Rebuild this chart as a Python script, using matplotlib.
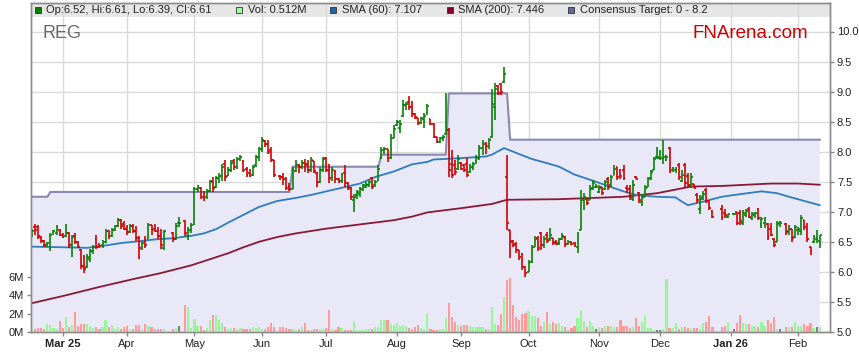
import numpy as np
import pandas as pd
import matplotlib
matplotlib.use('Agg')
import matplotlib.pyplot as plt
from matplotlib.collections import LineCollection
from matplotlib.patches import Rectangle

plt.rcParams['font.family'] = ['Liberation Sans', 'DejaVu Sans']

# ---------------- data ----------------
weekdays = pd.bdate_range('2025-02-17', '2026-02-11')
holidays = pd.to_datetime(['2025-04-18', '2025-04-21', '2025-04-25', '2025-06-09',
                           '2025-12-25', '2025-12-26', '2026-01-01', '2026-01-26'])

opens = [6.60,6.74,6.75,6.58,6.52,6.45,6.40,6.64,6.65,6.70,6.62,6.60,6.64,6.45,6.60,6.50,6.36,6.10,6.08,6.22,
         6.35,6.55,6.45,6.44,6.50,6.68,6.60,6.70,6.76,6.86,6.80,6.72,6.66,6.76,6.68,6.56,6.40,6.52,6.55,6.78,
         6.72,6.68,6.60,6.40,6.65,6.55,6.82,6.84,6.60,6.70,6.80,7.38,7.40,7.25,7.24,7.35,7.52,7.42,7.56,7.60,
         7.80,7.60,7.70,7.84,7.75,7.88,7.85,7.72,7.64,7.62,7.78,7.92,8.05,8.18,8.12,8.02,7.86,7.60,7.58,7.55,
         7.42,7.38,7.68,7.78,7.75,7.82,7.80,7.70,7.84,7.64,7.50,7.70,7.90,7.70,7.58,7.68,7.55,7.52,7.64,7.48,
         7.40,7.20,7.28,7.30,7.38,7.42,7.44,7.56,7.45,7.52,7.90,8.02,8.04,7.90,8.22,8.44,8.40,8.60,8.78,8.82,
         8.75,8.62,8.56,8.48,8.54,8.64,8.54,8.46,8.24,8.16,8.22,8.30,8.36,7.80,7.78,7.72,7.82,7.78,7.80,7.66,
         7.74,7.84,7.90,8.06,8.12,8.10,8.24,8.75,9.10,9.12,9.16,7.58,6.70,6.52,6.46,6.36,6.30,6.08,6.00,6.16,
         6.42,6.56,6.64,6.45,6.62,6.55,6.56,6.50,6.48,6.55,6.58,6.46,6.49,6.48,6.42,6.70,7.20,7.22,7.20,7.40,
         7.41,7.33,7.42,7.38,7.55,7.44,7.62,7.74,7.70,7.70,7.40,7.38,7.22,7.58,7.31,7.16,7.25,7.42,7.56,7.70,
         7.92,7.90,7.88,7.86,8.06,7.70,7.70,7.78,7.52,7.78,7.60,7.45,7.46,7.28,7.05,7.24,7.36,7.18,7.02,7.05,
         6.98,6.92,6.96,7.00,6.98,6.82,6.94,7.05,6.90,6.95,7.04,6.80,6.82,6.80,6.72,6.55,6.50,6.82,6.80,6.68,
         6.72,6.58,6.70,6.68,6.86,6.72,6.42,6.50,6.55,6.52]
highs = [6.72,6.80,6.78,6.60,6.53,6.50,6.64,6.70,6.78,6.72,6.64,6.80,6.66,6.62,6.64,6.52,6.38,6.28,6.30,6.38,
         6.44,6.62,6.48,6.53,6.72,6.70,6.73,6.78,6.90,6.88,6.84,6.78,6.80,6.80,6.76,6.60,6.52,6.60,6.81,6.78,
         6.80,6.74,6.72,6.70,6.67,6.81,6.92,6.86,6.75,6.81,7.42,7.45,7.42,7.35,7.38,7.53,7.58,7.60,7.64,7.80,
         7.86,7.75,7.86,7.88,7.92,7.95,7.86,7.75,7.72,7.78,7.95,8.08,8.25,8.19,8.19,8.08,7.86,7.62,7.65,7.58,
         7.48,7.75,7.86,7.80,7.86,7.88,7.86,7.92,7.85,7.66,7.75,7.92,7.92,7.80,7.75,7.70,7.56,7.65,7.78,7.50,
         7.42,7.30,7.36,7.42,7.47,7.50,7.53,7.58,7.53,7.78,8.08,8.08,8.05,8.30,8.44,8.53,8.53,8.86,8.83,8.92,
         8.84,8.64,8.56,8.58,8.64,8.80,8.55,8.48,8.25,8.25,8.28,8.97,8.39,8.03,7.86,7.94,7.83,7.80,7.89,7.80,
         7.83,7.94,8.11,8.19,8.16,8.22,9.05,9.14,9.11,9.14,9.41,7.94,6.70,6.53,6.50,6.36,6.31,6.09,6.20,6.45,
         6.59,6.59,6.67,6.59,6.67,6.73,6.56,6.53,6.56,6.64,6.59,6.53,6.51,6.50,6.67,7.36,7.31,7.22,7.45,7.53,
         7.47,7.44,7.42,7.53,7.58,7.61,7.78,7.75,7.72,7.78,7.44,7.45,7.53,7.59,7.33,7.29,7.44,7.58,7.70,7.92,
         8.08,8.03,8.20,7.95,8.08,7.75,7.75,7.81,7.70,7.81,7.64,7.64,7.47,7.31,7.28,7.34,7.39,7.20,7.03,7.12,
         7.05,6.97,6.98,7.00,7.03,7.03,7.05,7.08,7.00,7.00,7.06,6.92,6.92,6.81,6.81,6.56,6.84,6.84,6.81,6.78,
         6.72,6.78,6.75,6.95,6.86,6.81,6.42,6.61,6.70,6.61]
lows = [6.58,6.62,6.55,6.48,6.42,6.42,6.34,6.62,6.61,6.59,6.56,6.58,6.40,6.25,6.46,6.40,6.05,5.98,6.06,6.16,
        6.30,6.38,6.40,6.40,6.48,6.55,6.58,6.68,6.74,6.72,6.70,6.62,6.65,6.64,6.52,6.22,6.36,6.40,6.55,6.61,
        6.66,6.55,6.38,6.36,6.50,6.53,6.75,6.59,6.53,6.64,6.78,7.33,7.22,7.18,7.22,7.33,7.33,7.40,7.48,7.52,
        7.52,7.60,7.66,7.70,7.72,7.84,7.66,7.58,7.58,7.60,7.75,7.84,8.00,8.08,7.97,7.83,7.58,7.53,7.45,7.36,
        7.34,7.38,7.67,7.64,7.72,7.66,7.64,7.66,7.64,7.42,7.48,7.66,7.66,7.48,7.52,7.48,7.48,7.48,7.42,7.36,
        7.20,7.00,7.22,7.25,7.34,7.40,7.42,7.38,7.42,7.52,7.88,7.97,7.83,7.88,8.22,8.42,8.31,8.58,8.69,8.70,
        8.58,8.55,8.44,8.46,8.40,8.61,8.44,8.22,8.14,8.14,8.17,8.28,7.58,7.56,7.61,7.70,7.69,7.66,7.58,7.64,
        7.69,7.80,7.86,7.94,7.97,8.05,8.22,8.53,8.94,8.94,9.14,6.70,6.23,6.42,6.31,6.20,6.03,5.92,6.00,6.14,
        6.42,6.34,6.36,6.40,6.48,6.51,6.45,6.45,6.45,6.53,6.42,6.45,6.45,6.42,6.31,6.70,7.03,7.12,7.20,7.36,
        7.39,7.31,7.28,7.36,7.36,7.42,7.62,7.53,7.55,7.53,7.31,7.20,7.18,7.54,7.14,7.09,7.25,7.42,7.53,7.70,
        7.88,7.86,7.80,7.84,7.64,7.66,7.64,7.53,7.50,7.42,7.39,7.40,7.39,7.14,6.97,7.20,7.14,7.03,6.89,6.86,
        6.89,6.89,6.94,6.78,6.78,6.78,6.92,6.89,6.86,6.89,6.86,6.73,6.73,6.53,6.59,6.42,6.50,6.75,6.61,6.61,
        6.50,6.56,6.61,6.61,6.70,6.50,6.28,6.48,6.48,6.39]
closes = [6.68,6.70,6.60,6.52,6.45,6.48,6.62,6.68,6.75,6.62,6.58,6.64,6.45,6.58,6.50,6.42,6.10,6.05,6.25,6.35,
          6.42,6.42,6.43,6.50,6.68,6.60,6.70,6.76,6.86,6.76,6.72,6.66,6.76,6.68,6.56,6.40,6.48,6.44,6.78,6.70,
          6.68,6.60,6.45,6.68,6.55,6.76,6.82,6.64,6.70,6.78,7.38,7.42,7.25,7.22,7.35,7.50,7.40,7.56,7.60,7.75,
          7.58,7.70,7.82,7.74,7.88,7.92,7.70,7.62,7.60,7.75,7.92,8.04,8.20,8.12,8.00,7.86,7.62,7.58,7.55,7.40,
          7.38,7.70,7.80,7.75,7.82,7.78,7.70,7.86,7.68,7.50,7.70,7.88,7.70,7.56,7.70,7.55,7.52,7.62,7.48,7.40,
          7.25,7.25,7.33,7.38,7.44,7.45,7.50,7.42,7.50,7.72,8.02,8.05,7.90,8.22,8.38,8.50,8.46,8.78,8.80,8.75,
          8.62,8.58,8.48,8.56,8.60,8.76,8.46,8.25,8.16,8.22,8.25,8.36,7.70,7.62,7.66,7.88,7.72,7.70,7.62,7.74,
          7.80,7.90,8.06,8.14,8.10,8.20,8.80,9.05,8.98,9.00,9.30,6.82,6.50,6.45,6.36,6.25,6.08,5.98,6.15,6.40,
          6.55,6.40,6.45,6.55,6.52,6.62,6.48,6.47,6.54,6.60,6.46,6.50,6.46,6.44,6.64,7.20,7.25,7.14,7.38,7.48,
          7.41,7.40,7.32,7.50,7.42,7.58,7.72,7.58,7.60,7.56,7.36,7.25,7.45,7.55,7.20,7.25,7.40,7.55,7.66,7.88,
          7.92,7.90,7.92,7.92,7.70,7.73,7.72,7.58,7.62,7.48,7.45,7.58,7.40,7.20,7.22,7.30,7.18,7.06,6.92,6.92,
          6.95,6.96,6.96,6.82,6.84,6.98,7.02,6.92,6.96,6.98,6.90,6.88,6.90,6.58,6.62,6.45,6.80,6.82,6.66,6.72,
          6.56,6.75,6.72,6.90,6.74,6.55,6.34,6.58,6.55,6.61]
volume_m = [0.30,0.30,0.40,0.40,0.35,0.85,0.75,0.45,0.35,1.20,0.40,1.60,0.55,0.75,2.15,0.65,0.85,0.85,0.85,0.65,
            0.45,0.55,0.30,0.55,1.25,0.55,0.75,0.35,0.50,0.30,0.55,0.65,0.35,0.35,0.75,0.75,0.30,0.85,0.60,0.55,
            0.30,0.35,0.35,0.30,0.30,0.40,0.65,2.90,2.70,0.40,1.40,0.65,0.65,0.20,0.40,1.30,1.85,1.85,1.35,0.95,
            0.50,0.35,0.45,0.45,0.35,0.45,0.35,0.30,0.30,0.50,0.45,0.50,0.30,0.30,0.50,0.95,0.50,0.55,0.55,0.45,
            0.35,0.30,0.25,0.30,0.50,0.95,0.20,0.25,0.35,0.30,0.30,0.35,0.40,2.40,0.35,0.20,0.50,0.40,0.25,0.25,
            0.25,1.05,0.20,0.25,0.25,0.35,0.35,0.30,0.55,0.55,1.25,1.35,1.35,0.90,0.75,1.00,0.60,0.75,0.70,0.45,
            0.35,0.50,0.75,0.45,0.30,1.95,0.30,0.25,0.20,0.35,0.30,1.50,3.10,1.60,1.10,0.75,0.60,0.75,0.80,0.60,
            0.55,0.50,0.50,0.55,0.30,0.30,2.70,0.90,0.80,1.90,3.80,5.60,5.90,2.90,1.60,1.35,1.90,2.05,2.30,1.70,
            1.70,1.55,0.60,1.10,2.15,0.90,1.10,0.90,1.00,0.60,0.55,0.30,0.45,0.70,1.55,2.35,1.15,0.55,1.15,0.70,
            0.30,0.55,0.45,0.70,0.70,0.70,0.55,0.55,1.35,0.65,0.70,0.45,0.55,1.50,0.70,1.10,1.70,0.45,0.45,0.25,
            0.20,0.20,0.30,5.70,0.45,0.45,1.00,0.35,0.50,0.50,0.45,0.45,0.45,0.45,0.35,1.00,1.10,1.75,0.55,0.55,
            0.70,1.10,0.30,1.00,1.80,1.00,0.85,0.85,0.65,0.70,0.55,1.10,0.70,1.35,1.00,1.60,0.35,0.30,0.55,0.55,
            0.55,1.10,0.65,0.65,0.85,0.60,1.00,0.45,0.55,0.512]

# moving averages (weekday position, value)
sma60_pos = [0, 10, 18, 24, 29, 35, 40, 46, 52, 56, 60, 64, 69, 74, 80, 86, 91, 96, 102, 107, 112, 118,
             124, 129, 131, 139, 148, 150, 154, 158, 163, 168, 172, 177, 184, 189, 193, 197, 204, 210,
             212, 214, 219, 225, 232, 238, 243, 247, 252, 257]
sma60_val = [6.42, 6.41, 6.40, 6.44, 6.48, 6.51, 6.54, 6.56, 6.60, 6.64, 6.71, 6.82, 6.95, 7.08, 7.18,
             7.23, 7.28, 7.34, 7.41, 7.47, 7.58, 7.67, 7.79, 7.83, 7.87, 7.89, 7.92, 7.95, 8.06, 7.98,
             7.88, 7.81, 7.75, 7.62, 7.50, 7.41, 7.34, 7.28, 7.25, 7.24, 7.17, 7.11, 7.17, 7.25, 7.30,
             7.34, 7.31, 7.25, 7.18, 7.11]
sma200_pos = [0, 11, 22, 33, 42, 52, 58, 64, 69, 74, 80, 86, 96, 107, 118, 124, 129, 140, 150, 155,
              172, 193, 204, 210, 215, 225, 241, 250, 257]
sma200_val = [5.48, 5.61, 5.75, 5.88, 5.98, 6.11, 6.21, 6.31, 6.41, 6.50, 6.58, 6.64, 6.72, 6.79, 6.86,
              6.92, 6.99, 7.06, 7.13, 7.20, 7.21, 7.25, 7.31, 7.37, 7.42, 7.43, 7.47, 7.47, 7.45]

# consensus target changes (weekday position where a new level starts)
cons_start = [0, 6, 85, 114, 136, 156]
cons_level = [7.25, 7.33, 7.75, 7.95, 8.97, 8.20]

month_labels = ['Mar 25', 'Apr', 'May', 'Jun', 'Jul', 'Aug', 'Sep', 'Oct', 'Nov', 'Dec', 'Jan 26', 'Feb']
price_ticks = [5.0, 5.5, 6.0, 6.5, 7.0, 7.5, 8.0, 8.5, 9.0, 9.5, 10.0]
vol_ticks = [0, 2, 4, 6]

# ---------------- positions ----------------
pos_all = np.arange(len(weekdays))
mask = ~weekdays.isin(holidays)
xpos = pos_all[mask]
O = np.array(opens); H = np.array(highs); L = np.array(lows); C = np.array(closes)
V = np.array(volume_m)

s = pd.Series(pos_all, index=weekdays)
firsts = s.groupby([weekdays.year, weekdays.month]).first().values[1:]

cons_daily = np.array([cons_level[np.searchsorted(cons_start, p, side='right') - 1] for p in xpos])

# ---------------- figure ----------------
W, Hh = 859, 363
fig = plt.figure(figsize=(W / 100, Hh / 100), dpi=100)
ax = fig.add_axes([31 / W, (Hh - 332) / Hh, (830 - 31) / W, 329 / Hh])
axv = ax.twinx()

ax.set_xlim(-0.33, 260.36)
ax.set_ylim(5.0, 5.0 + 329 / 60.1)
axv.set_ylim(0, 329 / 9.233)

ax.set_axisbelow(True)
ax.grid(True, color='#DADADA', lw=1.0)
ax.add_patch(Rectangle((0, 1 - 14 / 329), 1, 14 / 329, transform=ax.transAxes,
                       facecolor='#E6E6E6', edgecolor='none', zorder=0.3))

# consensus band
ax.fill_between(xpos, 0, cons_daily, color='#E8E8F7', lw=0, zorder=1)
ax.plot(xpos, cons_daily, color='#8A8AAE', lw=1.5, zorder=1.2)

# moving averages
ax.plot(sma200_pos, sma200_val, color='#8A1838', lw=1.3, zorder=2)
ax.plot(sma60_pos, sma60_val, color='#2F7DBE', lw=1.3, zorder=2)

# OHLC bars
tick = 0.6
up_segs, dn_segs = [], []
for x, o, h, l, c in zip(xpos, O, H, L, C):
    segs = [[(x, l), (x, h)], [(x - tick, o), (x, o)], [(x, c), (x + tick, c)]]
    (up_segs if c >= o else dn_segs).extend(segs)
ax.add_collection(LineCollection(up_segs, colors='#078207', linewidths=1.2, zorder=3))
ax.add_collection(LineCollection(dn_segs, colors='#D40000', linewidths=1.2, zorder=3))

# volume
vcol = ['#99F599' if c > o else ('#FF9A9A' if c < o else '#808080') for o, c in zip(O, C)]
axv.bar(xpos, V, width=0.7, color=vcol, lw=0, zorder=2)

# axes styling
ax.yaxis.tick_right()
axv.yaxis.tick_left()
ax.set_yticks(price_ticks)
ax.set_yticklabels(['%.1f' % t for t in price_ticks])
axv.set_yticks(vol_ticks)
axv.set_yticklabels(['%dM' % t for t in vol_ticks])
ax.set_xticks(firsts)
ax.set_xticklabels(month_labels)
for lab in ax.get_xticklabels():
    if any(ch.isdigit() for ch in lab.get_text()):
        lab.set_fontweight('bold')

for a in (ax, axv):
    a.tick_params(axis='both', length=3, width=1, color='#888888', labelsize=8,
                  labelcolor='#222222', pad=2)
    for sp in a.spines.values():
        sp.set_color('#8C8C8C')
        sp.set_linewidth(1.0)
axv.tick_params(axis='x', bottom=False, labelbottom=False)

# title texts
fig.text(42 / W, 1 - 33 / Hh, 'REG', fontsize=13, color='#6A6A6A', va='center', ha='left')
fig.text(693 / W, 1 - 33 / Hh, 'FNArena.com', fontsize=13.5, color='#CC0000', va='center', ha='left')

# legend strip items
items = [(35, 'Op:6.52, Hi:6.61, Lo:6.39, Cl:6.61', '#008000'),
         (236, 'Vol: 0.512M', '#99FF99'),
         (330, 'SMA (60): 7.107', '#1F64A8'),
         (447, 'SMA (200): 7.446', '#800028'),
         (568, 'Consensus Target: 0 - 8.2', '#66669A')]
for xp, txt, col in items:
    fig.patches.append(Rectangle((xp / W, 1 - 13 / Hh), 6 / W, 6 / Hh, transform=fig.transFigure,
                                 facecolor=col, edgecolor='#333333', lw=0.6, figure=fig))
    fig.text((xp + 11.5) / W, 1 - 10.3 / Hh, txt, fontsize=8, color='#222222', va='center', ha='left')

fig.savefig('out.png', dpi=100)
